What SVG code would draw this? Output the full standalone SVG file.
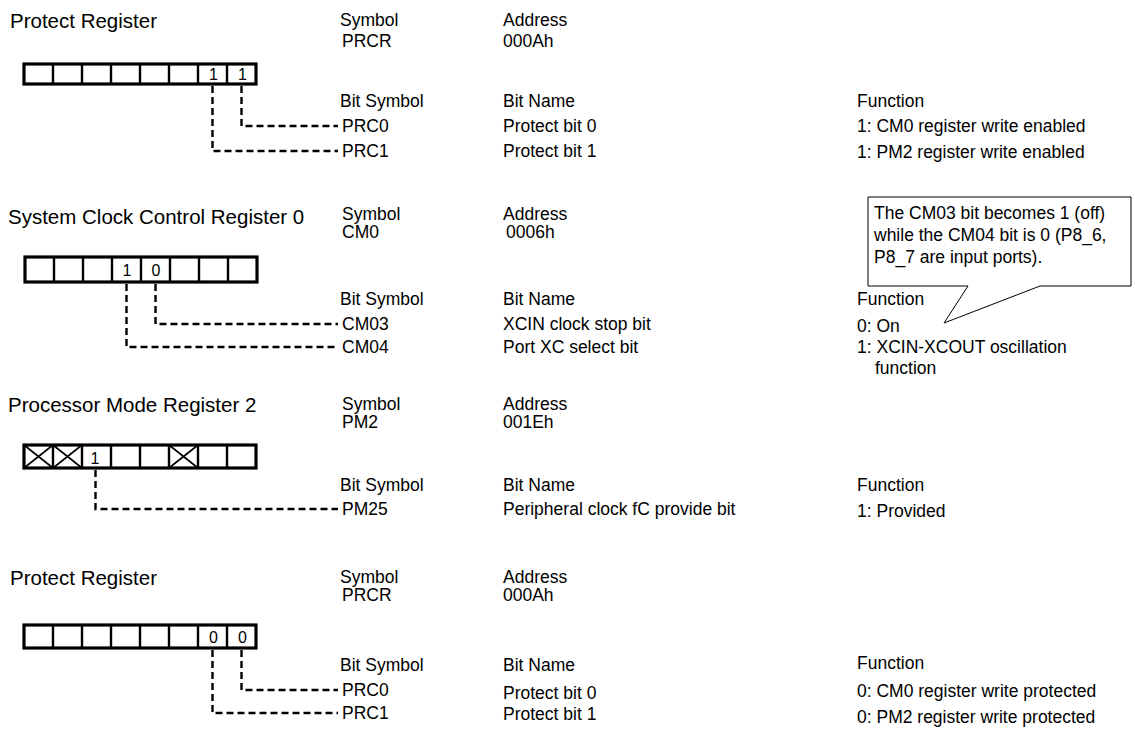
<svg xmlns="http://www.w3.org/2000/svg" width="1135" height="729" viewBox="0 0 1135 729">
<style>
text{font-family:"Liberation Sans",Arial,sans-serif;fill:#000}
.t{font-size:20.5px}
.l{font-size:17.5px}
.b{font-size:16px;text-anchor:middle}
.box{fill:#fff;stroke:#000;stroke-width:3.2}
.div{stroke:#000;stroke-width:2.4}
.x{stroke:#000;stroke-width:1.6}
.dash{fill:none;stroke:#000;stroke-width:2.4;stroke-dasharray:7 4}
.call{fill:#fff;stroke:#000;stroke-width:1}
</style>
<rect width="1135" height="729" fill="#fff"/>

<g id="prcr1">
<text class="t" x="10" y="28">Protect Register</text>
<text class="l" x="340" y="26">Symbol</text>
<text class="l" x="342" y="47">PRCR</text>
<text class="l" x="503" y="26">Address</text>
<text class="l" x="503" y="47">000Ah</text>
<rect class="box" x="24" y="64" width="232" height="20"/>
<path class="div" d="M53 64V84M82 64V84M111 64V84M140 64V84M169 64V84M198 64V84M227 64V84"/>
<text class="b" x="213.5" y="80">1</text>
<text class="b" x="242.5" y="80">1</text>
<text class="l" x="340" y="107">Bit Symbol</text>
<text class="l" x="503" y="107">Bit Name</text>
<text class="l" x="857" y="107">Function</text>
<text class="l" x="342" y="132">PRC0</text>
<text class="l" x="503" y="132">Protect bit 0</text>
<text class="l" x="857" y="132">1: CM0 register write enabled</text>
<text class="l" x="342" y="157">PRC1</text>
<text class="l" x="503" y="157">Protect bit 1</text>
<text class="l" x="857" y="158">1: PM2 register write enabled</text>
</g>

<g id="cm0">
<text class="t" x="8" y="224">System Clock Control Register 0</text>
<text class="l" x="342" y="220">Symbol</text>
<text class="l" x="342" y="238">CM0</text>
<text class="l" x="503" y="220">Address</text>
<text class="l" x="506" y="238">0006h</text>
<rect class="box" x="25" y="257" width="232" height="25"/>
<path class="div" d="M54 257V282M83 257V282M112 257V282M141 257V282M170 257V282M199 257V282M228 257V282"/>
<text class="b" x="127" y="276">1</text>
<text class="b" x="156" y="276">0</text>
<text class="l" x="340" y="305">Bit Symbol</text>
<text class="l" x="503" y="305">Bit Name</text>
<text class="l" x="857" y="305">Function</text>
<text class="l" x="342" y="330">CM03</text>
<text class="l" x="503" y="330">XCIN clock stop bit</text>
<text class="l" x="857" y="332">0: On</text>
<text class="l" x="342" y="353">CM04</text>
<text class="l" x="503" y="353">Port XC select bit</text>
<text class="l" x="857" y="353">1: XCIN-XCOUT oscillation</text>
<text class="l" x="875" y="374">function</text>
</g>

<g id="callout">
<path class="call" d="M868 197H1131V286H1040L944 323L968 286H868Z"/>
<text class="l" x="874" y="219">The CM03 bit becomes 1 (off)</text>
<text class="l" x="874" y="241">while the CM04 bit is 0 (P8_6,</text>
<text class="l" x="874" y="263">P8_7 are input ports).</text>
</g>

<g id="pm2">
<text class="t" x="8" y="412">Processor Mode Register 2</text>
<text class="l" x="342" y="410">Symbol</text>
<text class="l" x="342" y="428">PM2</text>
<text class="l" x="503" y="410">Address</text>
<text class="l" x="503" y="428">001Eh</text>
<rect class="box" x="24" y="445" width="232" height="23"/>
<path class="div" d="M53 445V468M82 445V468M111 445V468M140 445V468M169 445V468M198 445V468M227 445V468"/>
<path class="x" d="M24 445L53 468M53 445L24 468M53 445L82 468M82 445L53 468M169 445L198 468M198 445L169 468"/>
<text class="b" x="95" y="464">1</text>
<text class="l" x="340" y="491">Bit Symbol</text>
<text class="l" x="503" y="491">Bit Name</text>
<text class="l" x="857" y="491">Function</text>
<text class="l" x="342" y="515">PM25</text>
<text class="l" x="503" y="515">Peripheral clock fC provide bit</text>
<text class="l" x="857" y="517">1: Provided</text>
</g>

<g id="prcr2">
<text class="t" x="10" y="585">Protect Register</text>
<text class="l" x="340" y="583">Symbol</text>
<text class="l" x="342" y="601">PRCR</text>
<text class="l" x="503" y="583">Address</text>
<text class="l" x="503" y="601">000Ah</text>
<rect class="box" x="24" y="625" width="232" height="23"/>
<path class="div" d="M53 625V648M82 625V648M111 625V648M140 625V648M169 625V648M198 625V648M227 625V648"/>
<text class="b" x="213.5" y="643">0</text>
<text class="b" x="242.5" y="643">0</text>
<text class="l" x="340" y="671">Bit Symbol</text>
<text class="l" x="503" y="671">Bit Name</text>
<text class="l" x="857" y="669">Function</text>
<text class="l" x="342" y="696">PRC0</text>
<text class="l" x="503" y="699">Protect bit 0</text>
<text class="l" x="857" y="697">0: CM0 register write protected</text>
<text class="l" x="342" y="719">PRC1</text>
<text class="l" x="503" y="720">Protect bit 1</text>
<text class="l" x="857" y="723">0: PM2 register write protected</text>
</g>

<g id="connectors">
<path class="dash" d="M241.5 86V126H338"/>
<path class="dash" d="M212.5 86V151H338"/>
<path class="dash" d="M155.5 284V324H338"/>
<path class="dash" d="M126.5 284V347H338"/>
<path class="dash" d="M95.5 470V509H338"/>
<path class="dash" d="M241.5 650V690H338"/>
<path class="dash" d="M212.5 650V713H338"/>
</g>
</svg>
